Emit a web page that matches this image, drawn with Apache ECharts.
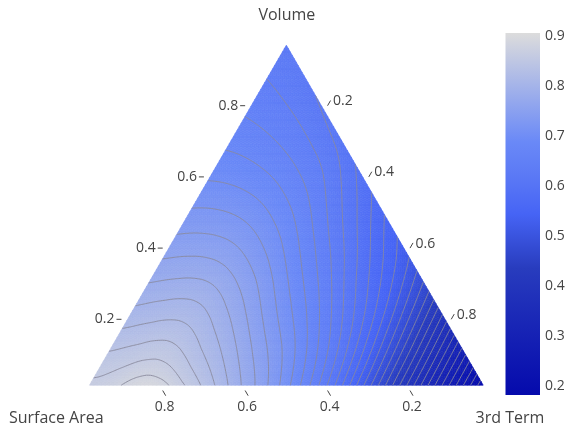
<!DOCTYPE html>
<html>
<head>
<meta charset="utf-8">
<script src="https://cdn.jsdelivr.net/npm/echarts@6/dist/echarts.min.js"></script>
<style>html,body{margin:0;padding:0;background:#fff;}#chart{width:573px;height:432px;}</style>
</head>
<body>
<div id="chart"></div>
<script>
// ================= DATA =================
const titleVolume = 'Volume';
const titleSurfaceArea = 'Surface Area';
const titleThirdTerm = '3rd Term';
const volumeTicks = [0.2, 0.4, 0.6, 0.8];
const surfaceAreaTicks = [0.8, 0.6, 0.4, 0.2];
const thirdTermTicks = [0.2, 0.4, 0.6, 0.8];
const colorbarTicks = [0.2, 0.3, 0.4, 0.5, 0.6, 0.7, 0.8, 0.9];
const colorRange = [0.183, 0.906];
const contourLevels = [0.20, 0.22, 0.24, 0.26, 0.28, 0.30, 0.32, 0.34, 0.36, 0.38,
  0.40, 0.42, 0.44, 0.46, 0.48, 0.50, 0.52, 0.54, 0.56, 0.58, 0.60, 0.62, 0.64,
  0.66, 0.68, 0.70, 0.72, 0.74, 0.76, 0.78, 0.80, 0.82, 0.84, 0.86, 0.88];
// field value at Volume = row*0.05, 3rd Term = col*0.05 (Surface Area = remainder)
const gridStep = 0.05;
const fieldRows = [
  [0.865, 0.871, 0.886, 0.898, 0.879, 0.856, 0.831, 0.800, 0.772, 0.742, 0.708, 0.668, 0.625, 0.571, 0.517, 0.462, 0.407, 0.351, 0.295, 0.240, 0.185],
  [0.853, 0.859, 0.867, 0.870, 0.853, 0.833, 0.811, 0.783, 0.757, 0.728, 0.695, 0.656, 0.615, 0.563, 0.512, 0.458, 0.404, 0.349, 0.293, 0.239],
  [0.840, 0.845, 0.850, 0.851, 0.834, 0.814, 0.793, 0.766, 0.741, 0.714, 0.682, 0.643, 0.604, 0.555, 0.506, 0.454, 0.401, 0.346, 0.291],
  [0.825, 0.829, 0.833, 0.832, 0.817, 0.798, 0.777, 0.750, 0.726, 0.697, 0.666, 0.629, 0.591, 0.545, 0.499, 0.449, 0.397, 0.343],
  [0.810, 0.814, 0.817, 0.816, 0.802, 0.782, 0.760, 0.733, 0.709, 0.681, 0.650, 0.614, 0.579, 0.536, 0.492, 0.444, 0.393],
  [0.795, 0.799, 0.801, 0.799, 0.786, 0.766, 0.745, 0.718, 0.693, 0.665, 0.634, 0.599, 0.566, 0.526, 0.485, 0.439],
  [0.780, 0.783, 0.785, 0.782, 0.769, 0.750, 0.729, 0.702, 0.677, 0.649, 0.618, 0.584, 0.554, 0.516, 0.478],
  [0.766, 0.768, 0.768, 0.764, 0.752, 0.734, 0.713, 0.686, 0.662, 0.633, 0.603, 0.571, 0.542, 0.507],
  [0.752, 0.754, 0.753, 0.747, 0.735, 0.717, 0.697, 0.671, 0.647, 0.618, 0.589, 0.557, 0.530],
  [0.738, 0.739, 0.737, 0.731, 0.719, 0.702, 0.682, 0.656, 0.631, 0.602, 0.574, 0.543],
  [0.725, 0.725, 0.722, 0.715, 0.703, 0.686, 0.667, 0.641, 0.617, 0.588, 0.560],
  [0.713, 0.712, 0.708, 0.700, 0.688, 0.672, 0.653, 0.627, 0.603, 0.575],
  [0.700, 0.698, 0.693, 0.685, 0.673, 0.657, 0.639, 0.614, 0.589],
  [0.689, 0.686, 0.680, 0.671, 0.659, 0.644, 0.626, 0.599],
  [0.678, 0.674, 0.667, 0.657, 0.645, 0.629, 0.610],
  [0.668, 0.663, 0.655, 0.645, 0.631, 0.614],
  [0.658, 0.651, 0.643, 0.632, 0.617],
  [0.649, 0.642, 0.633, 0.620],
  [0.640, 0.632, 0.622],
  [0.632, 0.624],
  [0.625]
];
// ================= STYLE / GEOMETRY =================
const colorStops = [[0,[5,10,172]],[0.35,[40,60,190]],[0.5,[70,100,245]],[0.6,[90,120,245]],[0.7,[106,137,247]],[1,[220,220,220]]];
const FONT = '"Open Sans", verdana, arial, sans-serif';
const TXT = '#444';
const EPS = 0.015, K = 1 - 3 * EPS, SQ = Math.sqrt(3) / 2;

function ternToXY(A, C) { return [C + A / 2, A * SQ]; }
function cellXY(i, j) { return ternToXY(EPS + K * i * gridStep, EPS + K * j * gridStep); }
const N = fieldRows.length - 1;

function colorOf(v) {
  let t = (v - colorRange[0]) / (colorRange[1] - colorRange[0]);
  t = Math.max(0, Math.min(1, t));
  for (let k = 1; k < colorStops.length; k++) {
    if (t <= colorStops[k][0]) {
      const a = colorStops[k - 1], b = colorStops[k];
      const f = (t - a[0]) / (b[0] - a[0]);
      const c = a[1].map((x, m) => Math.round(x + f * (b[1][m] - x)));
      return 'rgb(' + c.join(',') + ')';
    }
  }
  return 'rgb(220,220,220)';
}

// ---- smooth surface through the sampled grid (moving least squares, quadratic) ----
const nodes = [];
fieldRows.forEach((row, i) => row.forEach((v, j) => nodes.push({ x: j + i / 2, y: i * SQ, v })));
function solve(A, b) {
  const n = b.length, Mx = A.map((r, i) => r.concat([b[i]]));
  for (let c = 0; c < n; c++) {
    let p = c;
    for (let r = c + 1; r < n; r++) if (Math.abs(Mx[r][c]) > Math.abs(Mx[p][c])) p = r;
    const tmp = Mx[c]; Mx[c] = Mx[p]; Mx[p] = tmp;
    const piv = Mx[c][c];
    if (Math.abs(piv) < 1e-14) continue;
    for (let r = 0; r < n; r++) {
      if (r === c) continue;
      const f = Mx[r][c] / piv;
      for (let k = c; k <= n; k++) Mx[r][k] -= f * Mx[c][k];
    }
  }
  return Mx.map((r, i) => r[n] / r[i]);
}
const RAD = 2.4, RAD2 = RAD * RAD;
function surf(x, y) {
  const A = Array.from({ length: 6 }, () => new Array(6).fill(0));
  const B = new Array(6).fill(0);
  let sw = 0;
  for (const nd of nodes) {
    const dx = nd.x - x, dy = nd.y - y, d2 = dx * dx + dy * dy;
    if (d2 >= RAD2) continue;
    const q = 1 - d2 / RAD2, w = q * q;
    const b = [1, dx, dy, dx * dx, dx * dy, dy * dy];
    for (let r = 0; r < 6; r++) {
      B[r] += w * b[r] * nd.v;
      for (let c = 0; c < 6; c++) A[r][c] += w * b[r] * b[c];
    }
    sw += w;
  }
  for (let r = 3; r < 6; r++) A[r][r] += 2e-3 * sw;
  return solve(A, B)[0];
}
const SUB = 5, M = N * SUB;
const fineV = [];
for (let I = 0; I <= M; I++) {
  fineV.push([]);
  for (let J = 0; I + J <= M; J++) fineV[I].push(surf(J / SUB + I / SUB / 2, I / SUB * SQ));
}
function fineXY(I, J) { return cellXY(I / SUB, J / SUB); }

// fill triangles
const fillItems = [];
for (let I = 0; I < M; I++) {
  for (let J = 0; I + J < M; J++) {
    fillItems.push([[I, J], [I + 1, J], [I, J + 1]]);
    if (I + J < M - 1) fillItems.push([[I + 1, J], [I, J + 1], [I + 1, J + 1]]);
  }
}
const fillTris = fillItems.map(tri => ({
  pts: tri.map(q => fineXY(q[0], q[1])),
  v: tri.reduce((s, q) => s + fineV[q[0]][q[1]], 0) / 3
}));

// contour lines (marching triangles on the fine mesh)
function contourLines(L) {
  const segs = [];
  function tri(P) {
    const vals = P.map(x => fineV[x[0]][x[1]]);
    const ab = vals.map(v => v >= L);
    if (ab[0] === ab[1] && ab[1] === ab[2]) return;
    const cross = [];
    for (let e = 0; e < 3; e++) {
      const m = e, n = (e + 1) % 3;
      if (ab[m] !== ab[n]) {
        const t = (L - vals[m]) / (vals[n] - vals[m]);
        const pt = [P[m][0] + t * (P[n][0] - P[m][0]), P[m][1] + t * (P[n][1] - P[m][1])];
        const k1 = P[m].join(','), k2 = P[n].join(',');
        cross.push({ key: k1 < k2 ? k1 + '|' + k2 : k2 + '|' + k1, pt });
      }
    }
    if (cross.length === 2) segs.push(cross);
  }
  for (let i = 0; i < M; i++) {
    for (let j = 0; i + j < M; j++) {
      tri([[i, j], [i + 1, j], [i, j + 1]]);
      if (i + j < M - 1) tri([[i + 1, j], [i, j + 1], [i + 1, j + 1]]);
    }
  }
  const byKey = {};
  segs.forEach((s, idx) => s.forEach(c => { (byKey[c.key] = byKey[c.key] || []).push(idx); }));
  const used = new Array(segs.length).fill(false);
  const lines = [];
  function extend(chain) {
    while (true) {
      const last = chain[chain.length - 1];
      const cand = (byKey[last.key] || []).find(x => !used[x]);
      if (cand === undefined) break;
      used[cand] = true;
      const s = segs[cand];
      chain.push(s[0].key === last.key ? s[1] : s[0]);
    }
  }
  for (let s0 = 0; s0 < segs.length; s0++) {
    if (used[s0]) continue;
    used[s0] = true;
    const chain = [segs[s0][0], segs[s0][1]];
    extend(chain); chain.reverse(); extend(chain);
    lines.push(chain.map(c => fineXY(c.pt[0], c.pt[1])));
  }
  return lines;
}
const contourItems = [];
contourLevels.forEach(L => contourLines(L).forEach(l => contourItems.push(l)));

// axis items
const axisItems = [];
volumeTicks.forEach(t => axisItems.push({ axis: 'a', t }));
surfaceAreaTicks.forEach(t => axisItems.push({ axis: 'b', t }));
thirdTermTicks.forEach(t => axisItems.push({ axis: 'c', t }));
axisItems.push({ axis: 'ta' }, { axis: 'tb' }, { axis: 'tc' });

function txt(x, y, text, align, size) {
  return { type: 'text', x, y, style: { text, fill: TXT, fontFamily: FONT, fontSize: size || 14, align, verticalAlign: 'middle' } };
}
function tick(x1, y1, x2, y2) {
  return { type: 'line', shape: { x1, y1, x2, y2 }, style: { stroke: TXT, lineWidth: 1 } };
}

const chart = echarts.init(document.getElementById('chart'), null, { renderer: 'canvas' });
chart.setOption({
  animation: false,
  backgroundColor: '#fff',
  grid: [
    { left: 80.25, top: 34.5, width: 412.2, height: 356 },
    { left: 505.5, top: 33, width: 34.5, height: 362 }
  ],
  xAxis: [
    { type: 'value', min: 0, max: 1, show: false, gridIndex: 0 },
    { type: 'value', min: 0, max: 1, show: false, gridIndex: 1 }
  ],
  yAxis: [
    { type: 'value', min: 0, max: SQ, show: false, gridIndex: 0 },
    { type: 'value', min: colorRange[0], max: colorRange[1], gridIndex: 1, position: 'right',
      axisLine: { show: false }, axisTick: { show: false }, splitLine: { show: false },
      axisLabel: { customValues: colorbarTicks, color: TXT, fontSize: 14, fontFamily: FONT, margin: 5,
        formatter: v => (+v).toFixed(1) } }
  ],
  series: [
    {
      type: 'custom', name: 'fill', xAxisIndex: 0, yAxisIndex: 0, silent: true,
      data: fillTris.map(t => t.pts[0]),
      renderItem: (params, api) => {
        const t = fillTris[params.dataIndex];
        const col = colorOf(t.v);
        return { type: 'polygon', shape: { points: t.pts.map(p => api.coord(p)) },
          style: { fill: col, stroke: col, lineWidth: 0.7 } };
      }
    },
    {
      type: 'custom', name: 'contours', xAxisIndex: 0, yAxisIndex: 0, silent: true,
      data: contourItems.map(l => l[0]),
      renderItem: (params, api) => {
        const l = contourItems[params.dataIndex];
        return { type: 'polyline', shape: { points: l.map(p => api.coord(p)), smooth: 0.2 },
          style: { fill: null, stroke: 'rgba(138,138,156,0.9)', lineWidth: 1 } };
      }
    },
    {
      type: 'custom', name: 'axes', xAxisIndex: 0, yAxisIndex: 0, silent: true,
      data: axisItems.map(() => [0, 0]),
      renderItem: (params, api) => {
        const it = axisItems[params.dataIndex];
        let p;
        if (it.axis === 'a') {
          p = api.coord(ternToXY(it.t, 0));
          return { type: 'group', children: [tick(p[0], p[1], p[0] - 5, p[1]), txt(p[0] - 7, p[1], String(it.t), 'right')] };
        }
        if (it.axis === 'b') {
          p = api.coord(ternToXY(0, 1 - it.t));
          return { type: 'group', children: [tick(p[0], p[1], p[0] + 3, p[1] + 5.2), txt(p[0] + 2, p[1] + 17, String(it.t), 'center')] };
        }
        if (it.axis === 'c') {
          p = api.coord(ternToXY(1 - it.t, it.t));
          return { type: 'group', children: [tick(p[0], p[1], p[0] + 3, p[1] - 5.2), txt(p[0] + 5.5, p[1] - 4.5, String(it.t), 'left')] };
        }
        if (it.axis === 'ta') { p = api.coord(ternToXY(1, 0)); return txt(p[0] + 0.5, p[1] - 19.5, titleVolume, 'center', 16); }
        if (it.axis === 'tb') { p = api.coord(ternToXY(0, 0)); return txt(p[0] - 24, p[1] + 27.5, titleSurfaceArea, 'center', 16); }
        p = api.coord(ternToXY(0, 1)); return txt(p[0] + 17.5, p[1] + 27.5, titleThirdTerm, 'center', 16);
      }
    },
    {
      type: 'custom', name: 'colorbar', xAxisIndex: 1, yAxisIndex: 1, silent: true,
      data: [[0, colorRange[0]]],
      renderItem: (params, api) => {
        const p0 = api.coord([0, colorRange[0]]), p1 = api.coord([1, colorRange[1]]);
        const grad = new echarts.graphic.LinearGradient(0, 1, 0, 0,
          colorStops.map(s => ({ offset: s[0], color: 'rgb(' + s[1].join(',') + ')' })));
        return { type: 'rect', shape: { x: p0[0], y: p1[1], width: p1[0] - p0[0], height: p0[1] - p1[1] },
          style: { fill: grad } };
      }
    }
  ]
});
</script>
</body>
</html>
